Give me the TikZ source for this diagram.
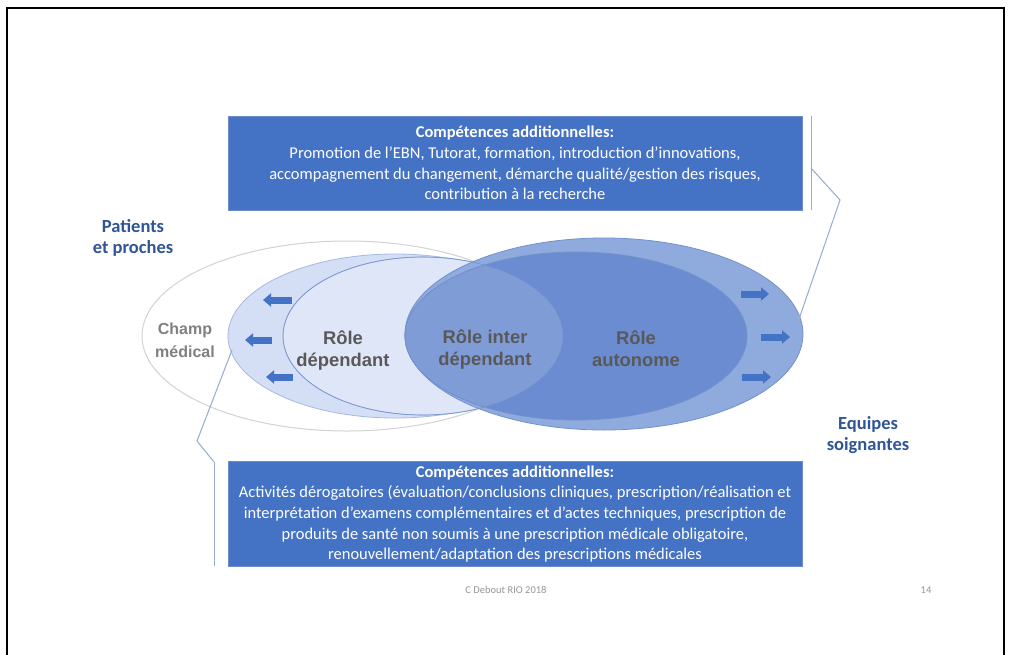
\documentclass[tikz,border=0pt]{standalone}
\usepackage{fontspec}
\setmainfont{Carlito}
\newfontfamily\arialfont{Liberation Sans}
\usetikzlibrary{arrows.meta}
\definecolor{boxblue}{RGB}{68,114,196}
\definecolor{boxedge}{RGB}{110,140,205}
\definecolor{darkblue}{RGB}{47,85,151}
\definecolor{greytxt}{RGB}{128,128,128}
\definecolor{roletxt}{RGB}{89,89,89}
\definecolor{champline}{RGB}{210,210,210}
\definecolor{depout}{RGB}{212,223,245}
\definecolor{depin}{RGB}{222,230,248}
\definecolor{depline}{RGB}{165,185,228}
\definecolor{autout}{RGB}{143,170,220}
\definecolor{autin}{RGB}{107,140,208}
\definecolor{intercol}{RGB}{128,156,215}
\definecolor{autline}{RGB}{115,145,205}
\definecolor{connline}{RGB}{150,170,210}
\definecolor{foot}{RGB}{150,150,150}
\tikzset{
  boxstyle/.style={fill=boxblue, draw=boxedge, line width=0.8pt, text=white, align=center, inner sep=0pt,
    font=\fontsize{16.5}{20.7}\selectfont},
  roletext/.style={text=roletxt, align=center, font=\arialfont\fontsize{18.4}{22}\selectfont\bfseries},
  sidetext/.style={text=darkblue, align=center, font=\fontsize{18.5}{21.5}\selectfont\bfseries},
  blockarrow/.style={line width=7pt, draw=boxblue, -{Triangle[length=8pt,width=13pt]}},
  connector/.style={draw=connline, line width=1pt},
}
\begin{document}
\begin{tikzpicture}[x=1pt,y=-1pt]
\useasboundingbox (0,0) rectangle (1011,654);
\fill[white] (0,0) rectangle (1011,654);
% frame
\draw[line width=2pt] (7,655) -- (7,8) -- (1004,8) -- (1004,655);

% ellipses
\draw[champline, line width=1pt, fill=white] (347,336) ellipse [x radius=205, y radius=95];
\draw[depline, line width=0.8pt, fill=depout] (395,336) ellipse [x radius=167, y radius=82];
\draw[depline, line width=0.8pt, fill=depin] (423,336) ellipse [x radius=140, y radius=79];
\draw[autline, line width=0.8pt, fill=autout] (604,334) ellipse [x radius=199, y radius=96];
\draw[autline, line width=0.8pt, fill=autin] (576,336) ellipse [x radius=171, y radius=84];
\begin{scope}
  \clip (423,336) ellipse [x radius=140, y radius=79];
  \fill[intercol] (576,336) ellipse [x radius=171, y radius=84];
  \draw[autline, line width=0.8pt] (576,336) ellipse [x radius=171, y radius=84];
\end{scope}
\draw[autline, line width=0.6pt] (423,336) ellipse [x radius=140, y radius=79];

% texts in ellipses
\node[text=greytxt, align=center, font=\arialfont\fontsize{16}{23}\selectfont\bfseries] (champ) at (185,340) {Champ\\médical};
\node[roletext] (dep) at (343,351) {Rôle\\dépendant};
\node[roletext] (inter) at (485,350) {Rôle inter\\dépendant};
\node[roletext] (auto) at (636,349) {Rôle\\autonome};

% side labels
\node[sidetext] (patients) at (133,238) {Patients\\et proches};
\node[sidetext] (equipes) at (868,435) {Equipes\\soignantes};

% arrows
\coordinate (la1s) at (292,300); \coordinate (la1e) at (263,300);
\coordinate (la2s) at (272,340); \coordinate (la2e) at (245,340);
\coordinate (la3s) at (293,377); \coordinate (la3e) at (266,377);
\coordinate (ra1s) at (741,294); \coordinate (ra1e) at (769,294);
\coordinate (ra2s) at (761,337); \coordinate (ra2e) at (790,337);
\coordinate (ra3s) at (742,377); \coordinate (ra3e) at (771,377);
\draw[blockarrow] (la1s) -- (la1e);
\draw[blockarrow] (la2s) -- (la2e);
\draw[blockarrow] (la3s) -- (la3e);
\draw[blockarrow] (ra1s) -- (ra1e);
\draw[blockarrow] (ra2s) -- (ra2e);
\draw[blockarrow] (ra3s) -- (ra3e);

% boxes
\node[boxstyle, minimum width=574, minimum height=94] (topbox) at (515,163)
  {\textbf{Compétences additionnelles:}\\
   Promotion de l’EBN, Tutorat, formation, introduction d’innovations,\\
   accompagnement du changement, démarche qualité/gestion des risques,\\
   contribution à la recherche};
\node[boxstyle, minimum width=574, minimum height=105] (botbox) at (515,514)
  {\textbf{Compétences additionnelles:}\\
   Activités dérogatoires (évaluation/conclusions cliniques, prescription/réalisation et\\
   interprétation d’examens complémentaires et d’actes techniques, prescription de\\
   produits de santé non soumis à une prescription médicale obligatoire,\\
   renouvellement/adaptation des prescriptions médicales};

% connectors
\coordinate (tbt) at (811,116); \coordinate (tbb) at (811,210);
\coordinate (tbk) at (811,168); \coordinate (tbm) at (840,200); \coordinate (tbe) at (798,322);
\draw[connector] (tbt) -- (tbb);
\draw[connector] (tbk) -- (tbm) -- (tbe);
\coordinate (bbt) at (214,462); \coordinate (bbb) at (214,566);
\coordinate (bbm) at (197,441); \coordinate (bbe) at (232,350);
\draw[connector] (bbt) -- (bbb);
\draw[connector] (bbt) -- (bbm) -- (bbe);

% footer
\node[text=foot, font=\fontsize{10.5}{12}\selectfont] (footer) at (506,590) {C Debout RIO 2018};
\node[text=foot, font=\fontsize{10.5}{12}\selectfont] (pagenum) at (926,590) {14};
\end{tikzpicture}
\end{document}
